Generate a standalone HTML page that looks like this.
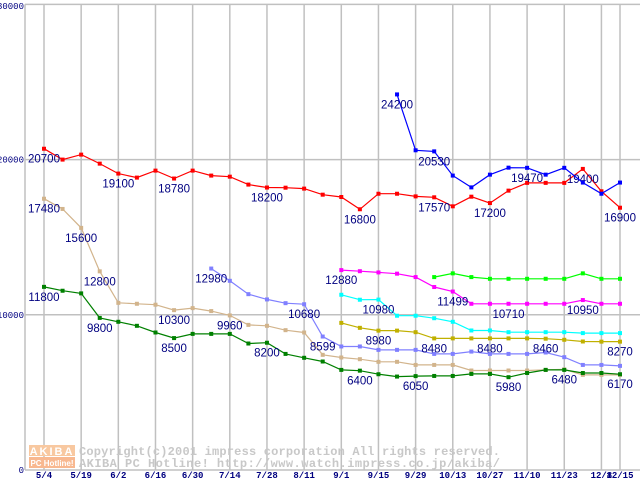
<!DOCTYPE html>
<html><head><meta charset="utf-8"><style>
html,body{margin:0;padding:0;background:#fff;width:640px;height:480px;overflow:hidden}
svg{display:block}
</style></head><body>
<svg id="chart" width="640" height="480" xmlns="http://www.w3.org/2000/svg" font-family="'Liberation Sans', sans-serif"></svg>
<script>
const xLabels = ["5/4","5/19","6/2","6/16","6/30","7/14","7/28","8/11","9/1","9/15","9/29","10/13","10/27","11/10","11/23","12/8","12/15"];
const xLabelIdx = [0,2,4,6,8,10,12,14,16,18,20,22,24,26,28,30,31];
const yTicks = [0,10000,20000,30000];
const redVals = [20700,20000,20320,19740,19100,18840,19290,18780,19290,18970,18900,18390,18200,18190,18130,17740,17590,16800,17800,17800,17630,17570,16990,17610,17200,18000,18500,18500,18500,19400,17960,16900];
const blueStart = 19;
const blueVals = [24200,20600,20530,18970,18210,19030,19480,19470,19030,19470,18520,17800,18520];
const tanVals = [17480,16820,15600,12800,10770,10710,10650,10300,10430,10240,9960,9350,9290,9010,8860,7420,7250,7140,6970,6970,6770,6770,6770,6410,6410,6410,6410,6450,6480,6130,6130,6130];
const greenVals = [11800,11550,11380,9800,9550,9290,8860,8500,8770,8770,8770,8150,8200,7480,7230,6990,6450,6400,6170,6020,6050,6060,6060,6190,6190,5980,6250,6450,6450,6250,6250,6170];
const lavStart = 9;
const lavVals = [12980,12190,11330,10990,10750,10680,8599,7960,7960,7740,7740,7740,7480,7480,7630,7480,7480,7480,7570,7270,6770,6770,6710];
const magStart = 16;
const magVals = [12880,12810,12730,12650,12430,11790,11499,10710,10710,10710,10710,10710,10710,10950,10710,10710];
const limeStart = 21;
const limeVals = [12430,12670,12430,12320,12320,12320,12320,12320,12670,12320,12320];
const cyanStart = 16;
const cyanVals = [11290,10970,10980,9940,9940,9780,9550,8990,8990,8880,8880,8880,8880,8820,8820,8820];
const oliveStart = 16;
const oliveVals = [9480,9160,8980,8980,8880,8480,8480,8480,8480,8480,8480,8460,8390,8280,8270,8270];
const labelRed = [0,4,7,12,17,21,24,29,31];
const labelBlue = [19,21,26];
const labelTan = [0,2,3,7,10,28];
const labelGreen = [0,3,7,12,17,20,25,31];
const labelLav = [9,14,15];
const labelMag = [16,22,25,29];
const labelCyan = [18];
const labelOlive = [18,21,24,27,31];

const NS = "http://www.w3.org/2000/svg";
const svg = document.getElementById('chart');
function xs(i){ return 44 + i*(576/31); }
function ys(v){ return 470 - v*0.01552; }
function mk(tag, attrs, parent){
  const e = document.createElementNS(NS, tag);
  for (const k in attrs) e.setAttribute(k, attrs[k]);
  (parent||svg).appendChild(e);
  return e;
}
const grid = mk('g', {});


xLabelIdx.forEach(i => {
  const l = mk('line', {x1:xs(i), x2:xs(i), y1:ys(30000), y2:470, stroke:'#c0c0c0', 'stroke-width':1.5}, grid);
  
  
});
yTicks.forEach(v => {
  const l = mk('line', {x1:25, x2:640, y1:ys(v), y2:ys(v), stroke:'#c0c0c0', 'stroke-width':1.5}, grid);
  
  
  const t = mk('text', {x:24, y:Math.max(ys(v)+3, 9), 'text-anchor':'end', 'font-size':9, 'font-family':"'Liberation Mono', monospace", fill:'#000080'});
  t.textContent = String(v);
  
  
});
const ax = mk('line', {x1:25, x2:25, y1:ys(30000), y2:470, stroke:'#c0c0c0', 'stroke-width':1.5});



const wm = mk('g', {});


mk('rect', {x:29, y:445, width:46, height:11, fill:'#f8c8a0'}, wm);
mk('rect', {x:29, y:457, width:46, height:11, fill:'#f8b890'}, wm);
const la = mk('text', {x:52, y:455, 'text-anchor':'middle', 'font-size':11, 'font-weight':'bold', fill:'#fff', 'letter-spacing':2}, wm); la.textContent='AKIBA';
const lb = mk('text', {x:52, y:466, 'text-anchor':'middle', 'font-size':8, 'font-weight':'bold', fill:'#fff'}, wm); lb.textContent='PC Hotline!';
const w1 = mk('text', {x:79, y:455, 'font-size':12, 'font-family':"'Liberation Mono', monospace", fill:'#c8c8c8', 'font-weight':'bold', textLength:421}, wm);
w1.textContent='Copyright(c)2001 impress corporation All rights reserved.';
const w2 = mk('text', {x:79, y:467, 'font-size':12, 'font-family':"'Liberation Mono', monospace", fill:'#c8c8c8', 'font-weight':'bold', textLength:421}, wm);
w2.textContent='AKIBA PC Hotline!  http://www.watch.impress.co.jp/akiba/';

xLabels.forEach((s, k) => {
  const t = mk('text', {x:xs(xLabelIdx[k]), y:478, 'text-anchor':'middle', 'font-size':9, 'font-family':"'Liberation Mono', monospace", 'font-weight':'bold', fill:'#000080'});
  t.textContent = s;
  
  
});

function series(name, vals, start, color, labels){
  const g = mk('g', {});
  
  
  const pts = vals.map((v,k) => xs(start+k).toFixed(1)+','+ys(v).toFixed(1)).join(' ');
  const pl = mk('polyline', {points:pts, fill:'none', stroke:color, 'stroke-width':1.2}, g);
  
  
  vals.forEach((v,k) => {
    const r = mk('rect', {x:xs(start+k)-2, y:ys(v)-2, width:4, height:4, fill:color}, g);
    
    
  });
  labels.forEach(i => {
    const v = vals[i-start];
    const t = mk('text', {x:xs(i), y:ys(v)+14, 'text-anchor':'middle', 'font-size':11.5, fill:'#000080'}, g);
    t.textContent = String(v);
    
    
  });
}
series('tan-series', tanVals, 0, '#d2b48c', labelTan);
series('green-series', greenVals, 0, '#008000', labelGreen);
series('lavender-series', lavVals, lavStart, '#8080ff', labelLav);
series('olive-series', oliveVals, oliveStart, '#c0b000', labelOlive);
series('cyan-series', cyanVals, cyanStart, '#00ffff', labelCyan);
series('lime-series', limeVals, limeStart, '#00ff00', []);
series('magenta-series', magVals, magStart, '#ff00ff', labelMag);
series('red-series', redVals, 0, '#ff0000', labelRed);
series('blue-series', blueVals, blueStart, '#0000ff', labelBlue);
</script>
</body></html>
